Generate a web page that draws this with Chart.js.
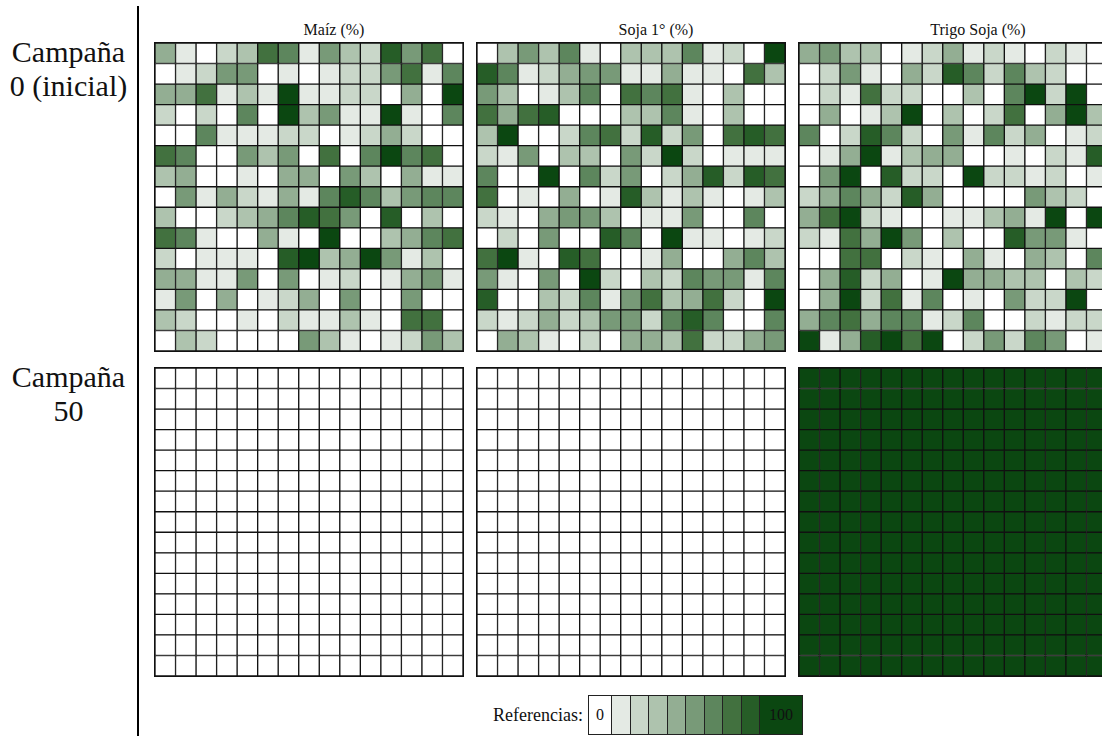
<!DOCTYPE html>
<html lang="es">
<head>
<meta charset="utf-8">
<title>Campañas</title>
<script src="https://cdn.jsdelivr.net/npm/chart.js@4.4.1/dist/chart.umd.min.js"></script>
<style>
    body {
        margin: 0;
        width: 1102px;
        height: 736px;
        overflow: hidden;
        background: #fff;
        font-family: "Liberation Serif", "Times New Roman", serif;
        color: #111;
        position: relative;
    }
    .grilla {
        position: absolute;
        border: 1px solid #111;
        width: 308px;
        height: 308px;
    }
    .grilla canvas { display: block; }
    .titulo {
        position: absolute;
        top: 21px;
        width: 200px;
        text-align: center;
        font-size: 16px;
        line-height: 18px;
        white-space: nowrap;
    }
    .campania {
        position: absolute;
        left: 0;
        width: 137px;
        text-align: center;
        font-family: "Liberation Serif", serif;
        font-size: 30px;
        line-height: 34px;
    }
    #divisor {
        position: absolute;
        left: 137px;
        top: 6px;
        width: 2px;
        height: 730px;
        background: #000;
    }
    #referencias {
        position: absolute;
        left: 440px;
        top: 695px;
        display: flex;
        align-items: center;
        font-size: 18px;
    }
    #referencias .rotulo { margin-right: 6px; }
    #referencias .caja {
        box-sizing: border-box;
        height: 40px;
        line-height: 38px;
        border: 1px solid #222;
        margin-left: -1px;
        text-align: center;
        font-size: 16px;
    }
</style>
</head>
<body>
<div id="divisor"></div>
<div id="referencias"><span class="rotulo">Referencias:</span></div>

<script>
    // Columnas (cultivos) y filas (campañas)
    const cultivos = ["Maíz (%)", "Soja 1° (%)", "Trigo Soja (%)"];
    const campanias = [["Campaña", "0 (inicial)"], ["Campaña", "50"]];

    // Escala de referencias: 10 clases de 0 a 100 %
    const clasesRotulos = ["0", "", "", "", "", "", "", "", "", "100"];
    const clasesColores = [
        "#ffffff", "#e4eae4", "#c9d7c9", "#aec3ae", "#93ae93",
        "#789a78", "#5d865d", "#42713f", "#265d27", "#0b4711"
    ];

    // Clase (0-9) de cada lote, fila por fila
    const maiz0 = [
        [4,1,0,2,3,7,6,1,5,3,2,8,5,7,0],
        [0,1,2,5,5,0,1,0,1,2,2,5,7,1,6],
        [4,4,7,1,3,1,9,1,1,2,2,0,4,0,9],
        [2,0,2,0,6,0,9,3,5,1,1,9,1,0,6],
        [0,0,6,1,1,1,2,2,0,1,2,4,2,0,0],
        [7,6,0,0,5,3,5,0,7,0,6,9,6,7,0],
        [3,4,0,0,1,0,4,4,0,5,3,0,4,1,1],
        [0,5,1,4,2,1,4,1,6,8,6,3,5,6,6],
        [3,0,0,2,3,4,6,8,7,5,0,8,0,3,0],
        [7,6,1,0,0,4,1,0,9,0,0,3,4,6,7],
        [2,0,1,1,1,0,8,9,3,4,9,5,1,3,0],
        [4,4,1,1,5,0,5,0,1,2,0,1,4,5,1],
        [1,5,0,4,0,1,2,4,0,5,0,0,5,0,0],
        [3,2,0,0,1,0,2,1,1,3,1,0,7,7,0],
        [0,3,2,0,0,0,0,5,3,1,0,1,2,5,3]
    ];
    const soja0 = [
        [0,3,5,3,6,1,0,3,3,3,6,1,2,0,9],
        [8,6,1,2,4,5,5,1,1,4,1,1,0,7,3],
        [5,3,0,1,3,6,0,7,6,7,1,0,3,0,0],
        [7,4,7,8,0,0,0,3,3,6,1,0,3,0,0],
        [3,9,0,0,2,6,7,2,8,2,5,0,7,8,7],
        [2,1,5,0,3,3,0,5,2,9,2,0,1,1,1],
        [6,0,0,9,0,6,2,5,0,2,4,8,2,8,7],
        [7,0,1,0,4,0,1,8,3,1,3,1,0,1,3],
        [2,1,0,4,5,5,3,0,1,1,5,0,0,6,0],
        [0,2,0,5,0,0,8,6,0,9,1,1,0,1,2],
        [7,9,1,0,8,7,0,0,1,4,0,0,4,6,3],
        [5,1,0,5,0,9,2,0,3,2,6,5,5,1,6],
        [8,0,0,3,2,6,1,5,7,3,4,7,2,0,9],
        [2,1,2,4,2,3,5,5,2,6,8,6,0,0,6],
        [0,4,3,1,0,2,0,4,4,3,7,2,2,4,5]
    ];
    const trigo0 = [
        [4,5,3,3,0,1,2,4,1,2,1,0,2,1,0],
        [0,2,5,1,0,4,2,8,6,2,6,3,2,0,0],
        [0,2,1,7,2,2,0,0,3,0,6,9,2,9,0],
        [0,4,0,1,3,9,0,3,0,2,7,0,4,9,3],
        [6,0,2,8,6,2,0,5,1,6,2,4,0,1,2],
        [0,1,4,9,1,3,4,4,0,0,1,0,2,1,8],
        [0,5,9,0,8,2,2,0,9,2,2,1,2,0,1],
        [2,4,6,4,2,8,4,0,0,0,0,5,3,2,0],
        [4,7,9,2,1,0,0,1,1,3,4,1,9,0,9],
        [2,1,7,4,9,5,0,3,0,0,8,5,5,1,0],
        [0,0,7,7,0,2,1,0,4,1,0,4,3,0,6],
        [0,4,8,2,4,0,1,9,4,4,3,3,0,3,2],
        [0,4,9,2,7,1,6,0,1,0,5,2,2,9,0],
        [4,6,7,4,6,6,1,2,6,0,0,2,1,2,2],
        [9,1,4,8,9,7,9,0,2,5,2,6,5,0,1]
    ];
    // Campaña 50: maíz y soja desaparecen, todo trigo/soja
    const filaVacia = [0,0,0,0,0,0,0,0,0,0,0,0,0,0,0];
    const filaLlena = [9,9,9,9,9,9,9,9,9,9,9,9,9,9,9];
    const maiz50 = [
        filaVacia, filaVacia, filaVacia, filaVacia, filaVacia,
        filaVacia, filaVacia, filaVacia, filaVacia, filaVacia,
        filaVacia, filaVacia, filaVacia, filaVacia, filaVacia
    ];
    const soja50 = maiz50;
    const trigo50 = [
        filaLlena, filaLlena, filaLlena, filaLlena, filaLlena,
        filaLlena, filaLlena, filaLlena, filaLlena, filaLlena,
        filaLlena, filaLlena, filaLlena, filaLlena, filaLlena
    ];

    const grillas = [[maiz0, soja0, trigo0], [maiz50, soja50, trigo50]];

    // ubicacion de los paneles en la pagina
    const izquierdas = [154, 476, 798];
    const arribas = [42, 367];

    function dibujarGrilla(contenedor, datos) {
        var canvas = document.createElement("canvas");
        canvas.width = 308;
        canvas.height = 308;
        contenedor.appendChild(canvas);

        var columnas = datos[0].map((v, i) => "C" + (i + 1));
        // la pila de barras arranca abajo, por eso se invierten las filas
        var datasets = datos.slice().reverse().map((fila, i) => ({
            label: "F" + (datos.length - i),
            data: fila.map(() => 1),
            backgroundColor: fila.map((c) => clasesColores[c]),
            borderColor: "#111",
            borderWidth: 1,
            borderSkipped: false,
            barPercentage: 1,
            categoryPercentage: 1,
        }));

        new Chart(canvas.getContext("2d"), {
            type: "bar",
            data: { labels: columnas, datasets: datasets },
            options: {
                responsive: false,
                animation: false,
                events: [],
                devicePixelRatio: 1,
                layout: { padding: 0 },
                plugins: {
                    legend: { display: false },
                    tooltip: { enabled: false },
                },
                scales: {
                    x: { stacked: true, display: false },
                    y: { stacked: true, display: false, min: 0, max: datos.length },
                },
            },
        });
    }

    cultivos.forEach(function (nombre, j) {
        var t = document.createElement("div");
        t.className = "titulo";
        t.textContent = nombre;
        t.style.left = izquierdas[j] + 155 + 25 - 100 + "px";
        document.body.appendChild(t);
    });

    campanias.forEach(function (lineas, i) {
        var r = document.createElement("div");
        r.className = "campania";
        r.style.top = arribas[i] - 7 + "px";
        r.innerHTML = lineas.join("<br>");
        document.body.appendChild(r);

        grillas[i].forEach(function (datos, j) {
            var g = document.createElement("div");
            g.className = "grilla";
            g.style.left = izquierdas[j] + "px";
            g.style.top = arribas[i] + "px";
            document.body.appendChild(g);
            dibujarGrilla(g, datos);
        });
    });

    // Referencias
    var ref = document.getElementById("referencias");
    clasesColores.forEach(function (color, k) {
        var caja = document.createElement("div");
        caja.className = "caja";
        caja.style.background = color;
        caja.style.width = (k === 0 ? 24 : k === clasesColores.length - 1 ? 44 : 19.5) + "px";
        caja.textContent = clasesRotulos[k];
        ref.appendChild(caja);
    });
    // alinear la escala para que arranque en x = 588
    var primera = ref.querySelector(".caja");
    ref.style.left = 440 + (588 - primera.getBoundingClientRect().left) + "px";
</script>
</body>
</html>
